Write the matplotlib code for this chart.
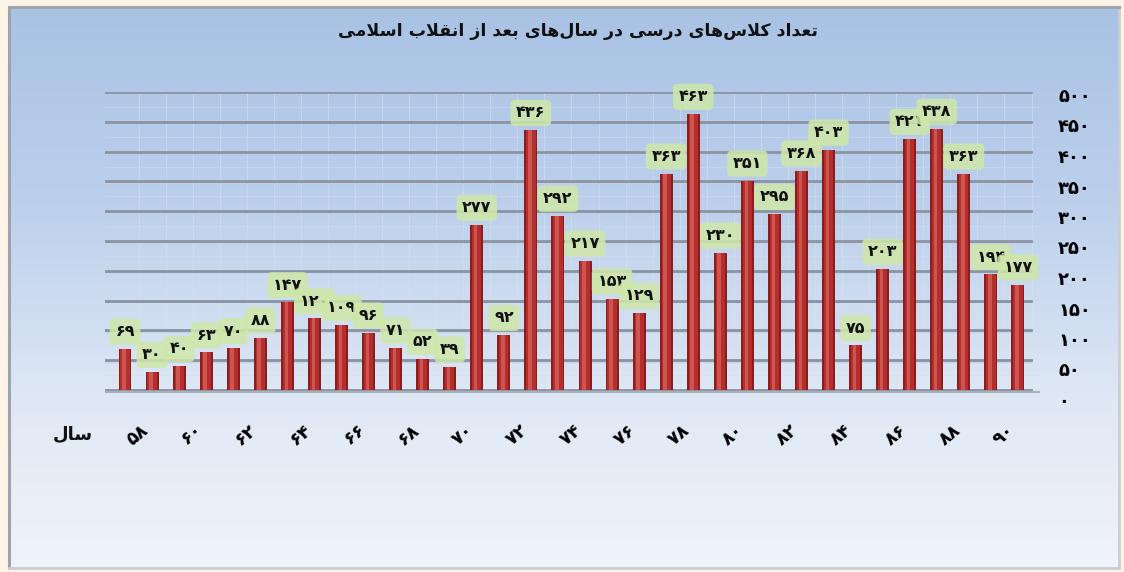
import numpy as np
import matplotlib
matplotlib.use("Agg")
import matplotlib.pyplot as plt
from matplotlib.colors import LinearSegmentedColormap

# ---------------- data ----------------
years = list(range(57, 91))
classes = [69, 30, 40, 63, 70, 88, 147, 120, 109, 96, 71, 52, 39, 277, 92,
           436, 292, 217, 153, 129, 363, 463, 230, 351, 295, 368, 403, 75,
           203, 421, 438, 363, 194, 177]
tick_years = list(range(58, 91, 2))
y_ticks = list(range(0, 501, 50))
title_text = "تعداد کلاس\u200cهای درسی در سال\u200cهای بعد از انقلاب اسلامی"
xlabel_text = "سال"

# ------------- persian helpers -------------
FA_DIGITS = str.maketrans("0123456789", "۰۱۲۳۴۵۶۷۸۹")


def fa_num(n):
    return str(n).translate(FA_DIGITS)


FORMS = {  # isolated, final, initial, medial
    'ا': ('\uFE8D', '\uFE8E', None, None),
    'ب': ('\uFE8F', '\uFE90', '\uFE91', '\uFE92'),
    'ت': ('\uFE95', '\uFE96', '\uFE97', '\uFE98'),
    'د': ('\uFEA9', '\uFEAA', None, None),
    'ر': ('\uFEAD', '\uFEAE', None, None),
    'ز': ('\uFEAF', '\uFEB0', None, None),
    'س': ('\uFEB1', '\uFEB2', '\uFEB3', '\uFEB4'),
    'ع': ('\uFEC9', '\uFECA', '\uFECB', '\uFECC'),
    'ق': ('\uFED5', '\uFED6', '\uFED7', '\uFED8'),
    'ک': ('\uFB8E', '\uFB8F', '\uFB90', '\uFB91'),
    'ل': ('\uFEDD', '\uFEDE', '\uFEDF', '\uFEE0'),
    'م': ('\uFEE1', '\uFEE2', '\uFEE3', '\uFEE4'),
    'ن': ('\uFEE5', '\uFEE6', '\uFEE7', '\uFEE8'),
    'ه': ('\uFEE9', '\uFEEA', '\uFEEB', '\uFEEC'),
    'ی': ('\uFBFC', '\uFBFD', '\uFBFE', '\uFBFF'),
    'LA': ('\uFEFB', '\uFEFC', None, None),
}


def shape(text):
    chars = []
    i = 0
    while i < len(text):
        if text[i] == 'ل' and i + 1 < len(text) and text[i + 1] == 'ا':
            chars.append('LA')
            i += 2
        else:
            chars.append(text[i])
            i += 1
    out = []
    for k, c in enumerate(chars):
        if c not in FORMS:
            if c != '\u200c':
                out.append(c)
            continue
        prev = chars[k - 1] if k > 0 else None
        nxt = chars[k + 1] if k + 1 < len(chars) else None
        jp = prev in FORMS and FORMS[prev][2] is not None
        jn = nxt in FORMS and FORMS[c][2] is not None
        f = FORMS[c]
        if jp and jn:
            out.append(f[3])
        elif jp:
            out.append(f[1])
        elif jn:
            out.append(f[2])
        else:
            out.append(f[0])
    return "".join(out[::-1])


plt.rcParams['font.family'] = ['DejaVu Sans']

W, H = 1124, 572
fig = plt.figure(figsize=(W / 100, H / 100), dpi=100)
fig.patch.set_facecolor('#fdf3e6')

# ---------- background panel with gradient ----------
bx0, bx1, by0, by1 = 9, 1119, 7, 568
bg = fig.add_axes([bx0 / W, (H - by1) / H, (bx1 - bx0) / W, (by1 - by0) / H])
cmap = LinearSegmentedColormap.from_list(
    'bgc', [(0.0, '#a9c2e4'), (0.35, '#bcd0ec'), (0.7, '#dfe8f5'), (1.0, '#eff4fa')])
grad = np.linspace(0, 1, 256).reshape(-1, 1)
bg.imshow(grad, cmap=cmap, aspect='auto', extent=[0, 1, 0, 1], origin='upper')
bg.set_xticks([])
bg.set_yticks([])
for s in ['left', 'top']:
    bg.spines[s].set_color('#9ea4ac')
    bg.spines[s].set_linewidth(2.2)
for s in ['right', 'bottom']:
    bg.spines[s].set_color('#c9ced6')
    bg.spines[s].set_linewidth(2.0)

# ---------- main axes ----------
x_px0, x_px1 = 105, 1040
bar0_px, step_px = 125, 27.06
ax = fig.add_axes([x_px0 / W, (H - 393) / H, (x_px1 - x_px0) / W, (393 - 92) / H])
ax.set_facecolor('none')
ax.set_xlim((x_px0 - bar0_px) / step_px, (x_px1 - bar0_px) / step_px)
ax.set_ylim(-5, 500)

xs = np.arange(len(years))

# horizontal grid lines
for v in y_ticks:
    ax.axhline(v, color='#8a93a3', lw=2.0, zorder=1, xmax=0.99)
    ax.axhline(v - 2.5, color='#c4cfdf', lw=1.0, zorder=0.9, alpha=0.7, xmax=0.99)
for v in range(25, 500, 50):
    ax.axhline(v, color='#d3deee', lw=0.6, zorder=0.8, alpha=0.6)
for x in xs:
    ax.axvline(x + 0.5, color='#d9e3f1', lw=0.6, zorder=0.8, alpha=0.6)
# floor
ax.axhline(-4, color='#a9b1bd', lw=1.5, zorder=1)

# cylinder-like bars
ax.bar(xs, classes, width=0.48, color='#8c1d1d', zorder=3)
ax.bar(xs, classes, width=0.34, color='#b42e2e', zorder=3.1)
ax.bar(xs - 0.04, classes, width=0.13, color='#cd5550', zorder=3.2)

# value labels
for x, v in zip(xs, classes):
    ax.annotate(fa_num(v), (x, v), xytext=(0, 7), textcoords='offset points',
                ha='center', va='bottom', fontsize=11.5, fontweight='bold',
                color='#111111', zorder=5,
                bbox=dict(boxstyle='round,pad=0.35,rounding_size=0.3',
                          fc='#cfe7a8', ec='none', alpha=0.85))

# x ticks
tick_pos = [years.index(y) for y in tick_years]
ax.set_xticks(tick_pos)
ax.set_xticklabels([fa_num(y) for y in tick_years], rotation=40, ha='right',
                   va='top', fontsize=13, fontweight='bold')
ax.tick_params(axis='x', length=0, pad=20)
ax.set_yticks([])
for s in ax.spines.values():
    s.set_visible(False)

# right-hand value labels (front face of the 3-D wall)
axl = fig.add_axes([x_px0 / W, (H - 400) / H, (x_px1 - x_px0) / W, (400 - 95) / H])
axl.set_facecolor('none')
axl.set_ylim(0, 500)
axl.set_xticks([])
axl.yaxis.tick_right()
axl.set_yticks(y_ticks)
axl.set_yticklabels([fa_num(v) for v in y_ticks], fontsize=13, fontweight='bold')
axl.tick_params(axis='y', length=0, pad=13)
for s in axl.spines.values():
    s.set_visible(False)

# title and axis word
fig.text(578 / W, 1 - 31 / H, shape(title_text), ha='center', va='center',
         fontsize=12.5, fontweight='bold', color='#111111')
fig.text(73 / W, 1 - 434 / H, shape(xlabel_text), ha='center', va='center',
         fontsize=13, fontweight='bold', color='#111111')

fig.savefig('out.png', dpi=100, facecolor=fig.get_facecolor())
